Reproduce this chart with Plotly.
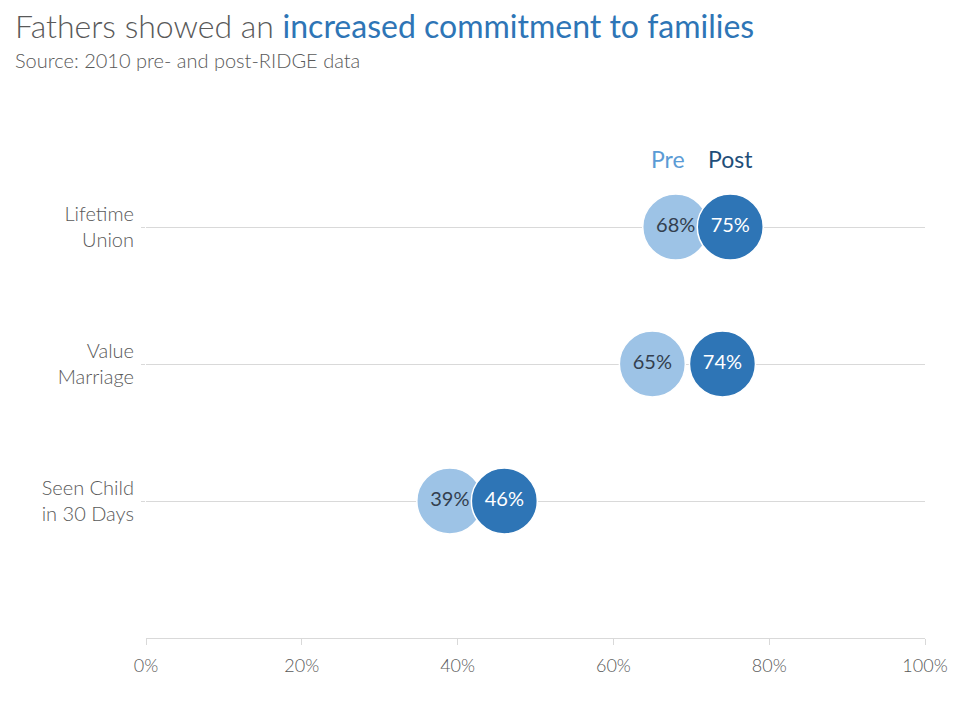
import plotly.graph_objects as go

categories = ["Lifetime<br>Union", "Value<br>Marriage", "Seen Child<br>in 30 Days"]
cat_pos = [3, 2, 1]
pre_values = [68, 65, 39]
post_values = [75, 74, 46]
x_ticks = [0, 20, 40, 60, 80, 100]
x_tick_labels = ["0%", "20%", "40%", "60%", "80%", "100%"]

GRAY = "#595959"
PRE = "#9DC3E6"
POST = "#2E75B6"
FONT = "Lato"

fig = go.Figure()
fig.add_trace(go.Scatter(
    x=pre_values, y=cat_pos, mode="markers+text",
    marker=dict(size=66, color=PRE, line=dict(color="white", width=1.5)),
    text=[f"{v}%" for v in pre_values], textposition="middle center",
    textfont=dict(family=FONT, size=20, color="#333F4F", weight=400),
    cliponaxis=False, hoverinfo="skip", showlegend=False))
fig.add_trace(go.Scatter(
    x=post_values, y=cat_pos, mode="markers+text",
    marker=dict(size=66, color=POST, line=dict(color="white", width=1.5)),
    text=[f"{v}%" for v in post_values], textposition="middle center",
    textfont=dict(family=FONT, size=20, color="white"),
    cliponaxis=False, hoverinfo="skip", showlegend=False))

fig.update_layout(
    width=960, height=720,
    margin=dict(l=146, r=31, t=90, b=82),
    plot_bgcolor="white", paper_bgcolor="white",
    font=dict(family=FONT, color=GRAY),
    xaxis=dict(range=[0, 100], tickvals=x_ticks, ticktext=x_tick_labels,
               showgrid=False, zeroline=False, showline=True, linecolor="#D9D9D9",
               linewidth=1, ticks="outside", ticklen=6, tickcolor="#D9D9D9",
               ticklabelstandoff=5,
               tickfont=dict(family=FONT, size=18, color=GRAY, weight=300), fixedrange=True),
    yaxis=dict(range=[0, 4], tickvals=cat_pos, ticktext=categories,
               showgrid=True, gridcolor="#D9D9D9", gridwidth=1, zeroline=False,
               showline=False, ticks="outside", ticklen=4, tickcolor="#D9D9D9",
               ticklabelstandoff=3,
               tickfont=dict(family=FONT, size=20, color=GRAY, weight=300), fixedrange=True),
    annotations=[
        dict(xref="paper", yref="paper", x=-0.171, y=1.1186, xanchor="left", yanchor="middle",
             showarrow=False,
             text=f"<span style='color:{GRAY}'>Fathers showed an </span><span style='color:{POST}; font-weight:400'>increased commitment to families</span>",
             font=dict(family=FONT, size=32, weight=300)),
        dict(xref="paper", yref="paper", x=-0.171, y=1.0547, xanchor="left", yanchor="middle",
             showarrow=False, text="Source: 2010 pre- and post-RIDGE data",
             font=dict(family=FONT, size=20, color=GRAY, weight=300)),
        dict(x=pre_values[0], y=3.5, xshift=-8, showarrow=False, text="Pre",
             font=dict(family=FONT, size=23, color="#5B9BD5")),
        dict(x=post_values[0], y=3.5, showarrow=False, text="Post",
             font=dict(family=FONT, size=23, color="#1F4E79")),
    ],
)

fig.write_html("out.html")
